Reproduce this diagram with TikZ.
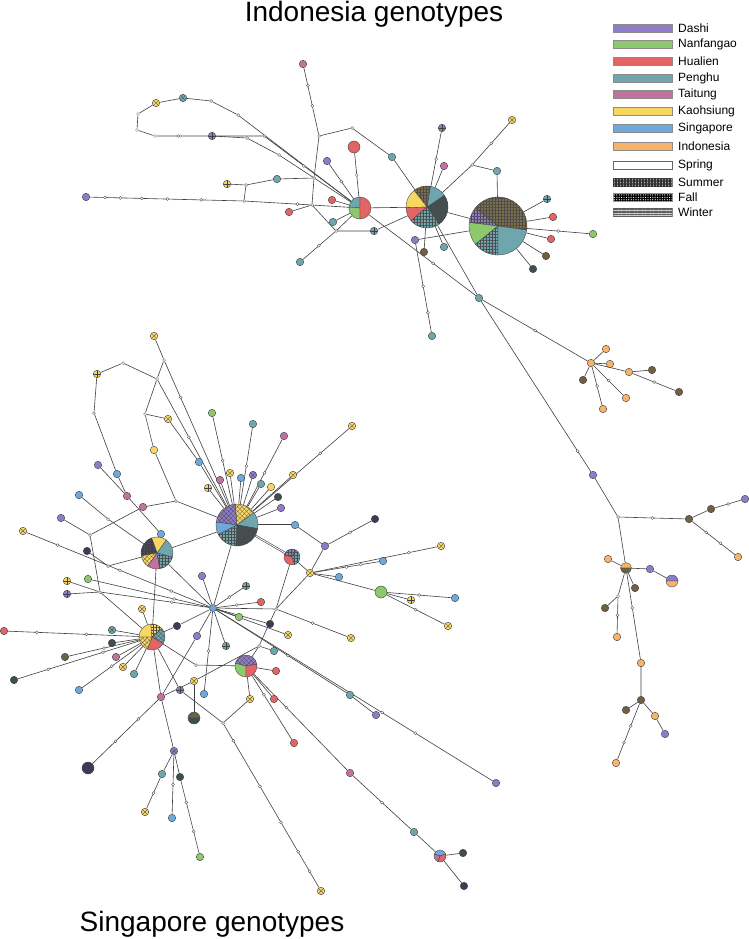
\documentclass[tikz,border=0pt]{standalone}
\usepackage{fontspec}
\setmainfont{Liberation Sans}
\usetikzlibrary{patterns,patterns.meta,backgrounds}

\definecolor{dashi}{HTML}{8E7CC8}
\definecolor{nanf}{HTML}{8DC96C}
\definecolor{hual}{HTML}{E36464}
\definecolor{pengh}{HTML}{6FA6AE}
\definecolor{tait}{HTML}{C2729F}
\definecolor{kaoh}{HTML}{F8D662}
\definecolor{sing}{HTML}{6EA8DD}
\definecolor{indo}{HTML}{F6B36A}
\definecolor{olv}{HTML}{6E6141}
\definecolor{olvl}{HTML}{7D6E4A}
\definecolor{slt}{HTML}{3E4F54}
\definecolor{dkp}{HTML}{3F3B56}

\tikzset{
  link/.style={draw=black!75, line width=0.6pt},
  dbl/.style={link, double=white, double distance=0.9pt},
  hap/.style={circle, draw=black!75, line width=0.4pt, minimum size=7.5pt, inner sep=0pt},
  mut/.style={circle, draw=black!70, fill=white, line width=0.35pt, minimum size=3pt, inner sep=0pt},
  gr/.style={postaction={pattern={Hatch[angle=0,distance=3pt,line width=0.2pt]}, pattern color=black!70}},
  xh/.style={postaction={pattern={Hatch[angle=45,distance=3.2pt,line width=0.25pt]}, pattern color=black!70}},
  pm/.style={path picture={\draw[black!75, line width=0.4pt] (path picture bounding box.north) -- (path picture bounding box.south) (path picture bounding box.west) -- (path picture bounding box.east);}},
  xm/.style={path picture={\draw[black!70, line width=0.35pt] (path picture bounding box.south west) -- (path picture bounding box.north east) (path picture bounding box.north west) -- (path picture bounding box.south east);}},
  swatch/.style={rectangle, draw=black!45, line width=0.3pt, minimum width=59pt, minimum height=8pt, inner sep=0pt},
  lgtext/.style={anchor=west, font=\fontsize{12}{14}\selectfont, inner sep=0pt},
  title/.style={anchor=base, font=\fontsize{28}{33}\selectfont, inner sep=0pt}
}

% pie chart haplotypes
\newcommand{\pienode}[4]{\node[circle, inner sep=0pt, minimum size=#4*2pt] (#1) at (#2,#3) {};}
\newcommand{\pieslice}[5]{\path[draw=black!75, line width=0.35pt, #5] (#1.center) -- ++({-(#3)}:#2) arc[start angle={-(#3)}, end angle={-(#4)}, radius=#2] -- cycle;}

\begin{document}
\begin{tikzpicture}[x=1pt,y=-1pt]
\path[use as bounding box] (0,0) rectangle (749,939);

% titles
\node[title] (ttlA) at (374,22) {Indonesia genotypes};
\node[title] (ttlB) at (212,931) {Singapore genotypes};

% legend
\node[swatch, fill=dashi] (lg1) at (642.5,28) {};
\node[swatch, fill=nanf] (lg2) at (642.5,44) {};
\node[swatch, fill=hual] (lg3) at (642.5,61) {};
\node[swatch, fill=pengh] (lg4) at (642.5,78) {};
\node[swatch, fill=tait] (lg5) at (642.5,94) {};
\node[swatch, fill=kaoh] (lg6) at (642.5,111) {};
\node[swatch, fill=sing] (lg7) at (642.5,128) {};
\node[swatch, fill=indo] (lg8) at (642.5,146) {};
\node[swatch, fill=white, draw=black!60] (lg9) at (642.5,165) {};
\node[swatch, fill=black!35, postaction={pattern={Hatch[angle=0,distance=1.5pt,line width=0.4pt]}, pattern color=black!80}] (lg10) at (642.5,182) {};
\node[swatch, fill=black, postaction={pattern={Dots[distance=2.4pt,radius=0.6pt]}, pattern color=white}] (lg11) at (642.5,197) {};
\node[swatch, fill=black!20, postaction={pattern={Lines[angle=0,distance=1.6pt,line width=0.5pt]}, pattern color=black!65}] (lg12) at (642.5,212) {};
\node[lgtext] (lt1) at (678,28) {Dashi};
\node[lgtext] (lt2) at (678,44) {Nanfangao};
\node[lgtext] (lt3) at (678,61) {Hualien};
\node[lgtext] (lt4) at (678,78) {Penghu};
\node[lgtext] (lt5) at (678,94) {Taitung};
\node[lgtext] (lt6) at (678,111) {Kaohsiung};
\node[lgtext] (lt7) at (678,128) {Singapore};
\node[lgtext] (lt8) at (678,146) {Indonesia};
\node[lgtext] (lt9) at (678,165) {Spring};
\node[lgtext] (lt10) at (678,182) {Summer};
\node[lgtext] (lt11) at (678,197) {Fall};
\node[lgtext] (lt12) at (678,212) {Winter};

% ---- Indonesia genotypes (top) ----
\pienode{pA}{360}{208}{11}
\pienode{pB}{427}{207}{21}
\pienode{pC}{498}{226}{29}
\node[hap,fill=tait] (ta) at (303,64) {};
\node[mut] (tb) at (319,136) {};
\node[mut] (tc) at (352,128) {};
\node[hap,fill=pengh] (td) at (392,157) {};
\node[mut] (te) at (314,178) {};
\node[mut] (tf) at (312,205) {};
\node[hap,fill=dashi] (tg) at (86,197) {};
\node[mut] (th) at (244,201) {};
\node[mut] (ti) at (246,185) {};
\node[hap,fill=kaoh,pm] (tj) at (227,184) {};
\node[hap,fill=pengh] (tk) at (277,179) {};
\node[hap,fill=hual] (tl) at (289,212) {};
\node[hap,fill=hual] (tm) at (332,200) {};
\node[hap,fill=hual,minimum size=12pt] (tn) at (354,147) {};
\node[hap,fill=dashi] (to) at (327,161) {};
\node[hap,fill=pengh] (tp) at (333,222) {};
\node[mut] (tq) at (336,231) {};
\node[hap,fill=pengh,pm] (tr) at (374,231) {};
\node[hap,fill=pengh] (ts) at (300,262) {};
\node[hap,fill=kaoh,xm] (tt) at (156,103) {};
\node[hap,fill=pengh,xm] (tu) at (183,98) {};
\node[mut] (tv) at (211,101) {};
\node[mut] (tw) at (238,115) {};
\node[mut] (tx) at (138,114) {};
\node[mut] (ty) at (137,130) {};
\node[mut] (tz) at (155,136) {};
\node[hap,fill=dashi,pm] (tA) at (212,136) {};
\node[mut] (tB) at (247,138) {};
\node[mut] (tC) at (264,136) {};
\node[mut] (tD) at (279,155) {};
\node[hap,fill=dashi] (u1) at (415,240) {};
\node[hap,fill=olv] (u2) at (424,252) {};
\node[hap,fill=pengh] (u3) at (444,247) {};
\node[hap,fill=dashi,pm] (u4) at (442,128) {};
\node[hap,fill=tait] (u5) at (444,166) {};
\node[mut] (u6) at (472,165) {};
\node[hap,fill=kaoh,xm] (u7) at (512,120) {};
\node[hap,fill=pengh] (u8) at (497,171) {};
\node[hap,fill=pengh,pm] (u9) at (547,199) {};
\node[hap,fill=hual] (u10) at (553,217) {};
\node[hap,fill=nanf] (u11) at (593,234) {};
\node[hap,fill=hual] (u12) at (551,239) {};
\node[hap,fill=olv] (u13) at (546,256) {};
\node[hap,fill=slt] (u14) at (533,269) {};
\node[hap,fill=pengh] (u15) at (432,336) {};
\node[hap,fill=pengh] (hubt) at (479,298) {};

% right hand groups
\node[hap,fill=indo] (ra) at (591,363) {};
\node[hap,fill=indo] (rb) at (606,349) {};
\node[hap,fill=indo] (rc) at (610,364) {};
\node[hap,fill=indo] (rd) at (629,372) {};
\node[hap,fill=olv] (re) at (652,370) {};
\node[hap,fill=olv] (rf) at (679,392) {};
\node[hap,fill=olv] (rg) at (583,380) {};
\node[hap,fill=indo] (rh) at (603,409) {};
\node[hap,fill=indo] (ri) at (626,398) {};
\node[hap,fill=dashi] (rj) at (593,475) {};
\node[mut] (rk) at (618,517) {};
\node[hap,fill=olv] (rl) at (689,519) {};
\node[hap,fill=olv] (rm) at (711,509) {};
\node[hap,fill=dashi] (rn) at (745,499) {};
\node[hap,fill=indo] (ro) at (738,557) {};
\pienode{pD}{626}{568}{5.5}
\node[hap,fill=indo] (rp) at (608,559) {};
\node[hap,fill=dashi] (rq) at (650,569) {};
\pienode{pE}{672}{581}{6}
\node[hap,fill=olv] (rr) at (635,588) {};
\node[mut] (rs) at (618,596) {};
\node[hap,fill=olv] (rt) at (605,608) {};
\node[hap,fill=indo] (ru) at (617,637) {};
\node[hap,fill=indo] (rv) at (641,663) {};
\node[hap,fill=olv] (rw) at (641,700) {};
\node[hap,fill=olv] (rx) at (626,710) {};
\node[hap,fill=indo] (ry) at (655,716) {};
\node[hap,fill=dashi] (rz) at (665,734) {};
\node[hap,fill=indo] (rA) at (616,763) {};

% ---- Singapore genotypes (bottom) ----
\pienode{pF}{237}{525}{21}
\pienode{pG}{157}{553}{16}
\pienode{pH}{292}{557}{8}
\pienode{pI}{152}{637}{13}
\pienode{pJ}{246}{666}{11}
\pienode{pK}{440}{856}{6}
\pienode{pL}{194}{718}{6}
\node[hap,fill=sing,minimum size=7pt] (sh) at (213,608) {};
\node[hap,fill=nanf] (f1) at (212,413) {};
\node[hap,fill=pengh] (f2) at (253,424) {};
\node[hap,fill=tait] (f3) at (284,436) {};
\node[hap,fill=kaoh,xm] (f4) at (352,426) {};
\node[hap,fill=kaoh,xm] (f5) at (293,475) {};
\node[hap,fill=slt] (f6) at (278,497) {};
\node[hap,fill=dashi] (f7) at (281,508) {};
\node[hap,fill=kaoh] (f8) at (271,487) {};
\node[hap,fill=pengh] (f9) at (261,484) {};
\node[hap,fill=dashi,xm] (f10) at (253,475) {};
\node[hap,fill=sing] (f11) at (241,478) {};
\node[hap,fill=kaoh,xm] (f12) at (230,473) {};
\node[hap,fill=tait] (f13) at (220,480) {};
\node[hap,fill=kaoh,pm] (f14) at (208,488) {};
\node[hap,fill=sing] (f15) at (199,462) {};
\node[hap,fill=kaoh,xm] (f16) at (168,419) {};
\node[mut] (f17) at (145,414) {};
\node[hap,fill=kaoh] (f18) at (154,450) {};
\node[mut] (f19) at (176,501) {};
\node[hap,fill=kaoh,xm] (f20) at (154,336) {};
\node[mut] (f21) at (164,360) {};
\node[mut] (f22) at (157,379) {};
\node[hap,fill=kaoh,pm] (f23) at (97,374) {};
\node[mut] (f24) at (123,363) {};
\node[mut] (f25) at (94,413) {};
\node[hap,fill=sing] (f26) at (117,474) {};
\node[hap,fill=tait] (f27) at (127,496) {};
\node[hap,fill=dashi] (f28) at (98,465) {};
\node[hap,fill=sing] (f29) at (79,495) {};
\node[hap,fill=dashi] (f30) at (61,518) {};
\node[mut] (f31) at (90,535) {};
\node[hap,fill=tait] (f32) at (143,507) {};
\node[hap,fill=sing] (f33) at (161,534) {};
\node[hap,fill=kaoh,xm] (f34) at (23,531) {};
\node[hap,fill=dkp] (f35) at (87,551) {};
\node[mut] (f36) at (108,566) {};
\node[mut] (f37) at (108,519) {};
\node[hap,fill=sing] (f38) at (295,525) {};
\node[hap,fill=dashi] (f39) at (325,546) {};
\node[hap,fill=dkp] (f40) at (375,519) {};
\node[hap,fill=kaoh,xm] (f41) at (310,573) {};
\node[hap,fill=sing] (f42) at (339,577) {};
\node[hap,fill=sing] (f43) at (383,561) {};
\node[hap,fill=kaoh,xm] (f44) at (441,546) {};
\node[hap,fill=nanf,minimum size=12pt] (f45) at (381,592) {};
\node[hap,fill=kaoh,pm] (f46) at (411,600) {};
\node[hap,fill=sing] (f47) at (455,598) {};
\node[hap,fill=kaoh,xm] (f48) at (448,626) {};
\node[mut] (f49) at (276,609) {};
\node[hap,fill=kaoh,pm] (g1) at (67,581) {};
\node[hap,fill=dashi,pm] (g2) at (67,594) {};
\node[hap,fill=nanf] (g3) at (88,579) {};
\node[mut] (g4) at (100,592) {};
\node[hap,fill=kaoh,xm] (g5) at (142,609) {};
\node[hap,fill=hual] (g6) at (4,631) {};
\node[hap,fill=pengh,xm] (g7) at (112,630) {};
\node[hap,fill=slt] (g8) at (112,643) {};
\node[hap,fill=olv] (g9) at (65,657) {};
\node[hap,fill=tait] (g10) at (116,657) {};
\node[hap,fill=kaoh,xm] (g11) at (123,667) {};
\node[hap,fill=pengh] (g12) at (134,674) {};
\node[hap,fill=slt] (g13) at (14,680) {};
\node[hap,fill=sing] (g14) at (79,690) {};
\node[hap,fill=dkp] (g15) at (177,626) {};
\node[hap,fill=dashi] (g16) at (197,636) {};
\node[hap,fill=dashi] (h1) at (202,576) {};
\node[hap,fill=pengh,pm] (h2) at (246,586) {};
\node[hap,fill=hual] (h3) at (261,602) {};
\node[hap,fill=nanf] (h4) at (239,617) {};
\node[hap,fill=dkp] (h5) at (270,624) {};
\node[hap,fill=kaoh,xm] (h6) at (288,635) {};
\node[hap,fill=kaoh,xm] (h7) at (351,638) {};
\node[hap,fill=pengh,pm] (h8) at (226,646) {};
\node[mut] (h9) at (259,646) {};
\node[hap,fill=pengh] (h10) at (274,651) {};
\node[hap,fill=hual] (h11) at (276,671) {};
\node[mut] (h12) at (196,665) {};
\node[hap,fill=kaoh,xm] (h13) at (194,681) {};
\node[hap,fill=dashi,pm] (h14) at (180,690) {};
\node[hap,fill=sing] (h15) at (204,694) {};
\node[hap,fill=tait] (h16) at (161,697) {};
\node[hap,fill=kaoh,xm] (h17) at (250,699) {};
\node[hap,fill=hual] (h18) at (274,699) {};
\node[mut] (h19) at (223,723) {};
\node[hap,fill=hual] (h20) at (294,743) {};
\node[hap,fill=pengh] (h21) at (350,695) {};
\node[hap,fill=dashi] (h22) at (376,715) {};
\node[hap,fill=tait] (h23) at (350,773) {};
\node[hap,fill=kaoh,xm] (h24) at (321,891) {};
\node[hap,fill=dkp,minimum size=12pt] (h25) at (88,768) {};
\node[hap,fill=dashi,xm] (h26) at (174,751) {};
\node[hap,fill=pengh] (h27) at (162,774) {};
\node[hap,fill=slt] (h28) at (180,777) {};
\node[hap,fill=kaoh,xm] (h29) at (145,812) {};
\node[hap,fill=sing] (h30) at (172,818) {};
\node[hap,fill=nanf] (h31) at (200,857) {};
\node[hap,fill=pengh] (h32) at (414,832) {};
\node[hap,fill=slt] (h33) at (463,853) {};
\node[hap,fill=dkp] (h34) at (464,886) {};
\node[hap,fill=dashi] (h35) at (496,783) {};

% pie slices
\pieslice{pA}{11}{90}{175}{fill=pengh}
\pieslice{pA}{11}{175}{270}{fill=nanf}
\pieslice{pA}{11}{270}{450}{fill=hual}
\pieslice{pB}{21}{-54}{34}{fill=slt,gr}
\pieslice{pB}{21}{34}{81}{fill=pengh}
\pieslice{pB}{21}{81}{128}{fill=olvl,gr}
\pieslice{pB}{21}{128}{182}{fill=kaoh}
\pieslice{pB}{21}{182}{221}{fill=hual}
\pieslice{pB}{21}{221}{306}{fill=pengh,gr}
\pieslice{pC}{29}{-8}{142}{fill=olvl,gr}
\pieslice{pC}{29}{142}{173}{fill=dashi,gr}
\pieslice{pC}{29}{173}{219}{fill=nanf}
\pieslice{pC}{29}{219}{270}{fill=pengh,gr}
\pieslice{pC}{29}{270}{352}{fill=pengh}
\pieslice{pD}{5.5}{0}{180}{fill=indo}
\pieslice{pD}{5.5}{180}{360}{fill=olv}
\pieslice{pE}{6}{0}{180}{fill=dashi}
\pieslice{pE}{6}{180}{360}{fill=indo}
\pieslice{pF}{21}{-10}{37}{fill=pengh}
\pieslice{pF}{21}{37}{95}{fill=kaoh,xh}
\pieslice{pF}{21}{95}{172}{fill=dashi,xh}
\pieslice{pF}{21}{172}{207}{fill=sing}
\pieslice{pF}{21}{207}{267}{fill=pengh,gr}
\pieslice{pF}{21}{267}{350}{fill=slt,gr}
\pieslice{pG}{16}{-15}{55}{fill=pengh}
\pieslice{pG}{16}{55}{110}{fill=kaoh}
\pieslice{pG}{16}{110}{190}{fill=dkp,gr}
\pieslice{pG}{16}{190}{235}{fill=kaoh,xh}
\pieslice{pG}{16}{235}{280}{fill=tait}
\pieslice{pG}{16}{280}{345}{fill=pengh,gr}
\pieslice{pH}{8}{60}{165}{fill=dashi,gr}
\pieslice{pH}{8}{165}{290}{fill=hual}
\pieslice{pH}{8}{290}{420}{fill=pengh,gr}
\pieslice{pI}{13}{95}{180}{fill=kaoh}
\pieslice{pI}{13}{40}{95}{fill=kaoh,gr}
\pieslice{pI}{13}{-30}{40}{fill=pengh,xh}
\pieslice{pI}{13}{250}{330}{fill=hual}
\pieslice{pI}{13}{180}{250}{fill=kaoh,xh}
\pieslice{pJ}{11}{10}{165}{fill=dashi,xh}
\pieslice{pJ}{11}{165}{270}{fill=nanf}
\pieslice{pJ}{11}{270}{370}{fill=hual}
\pieslice{pK}{6}{20}{160}{fill=sing}
\pieslice{pK}{6}{160}{250}{fill=tait}
\pieslice{pK}{6}{250}{380}{fill=hual}
\pieslice{pL}{6}{0}{180}{fill=olv}
\pieslice{pL}{6}{180}{360}{fill=slt}

% connections
\begin{scope}[on background layer]
\fill[white] (0,0) rectangle (749,939);
\path[link] (ta) -- node[mut,pos=.27]{} node[mut,pos=.57]{} (tb);
\path[link] (tb) -- (tc) -- (td) -- (pB);
\path[link] (tb) -- (te) -- (tf);
\path[link] (tg) -- node[mut,pos=.10]{} node[mut,pos=.20]{} node[mut,pos=.34]{} node[mut,pos=.51]{} node[mut,pos=.73]{} (th);
\path[link] (th) -- node[mut,pos=.8]{} (tf) -- (pA);
\path[link] (th) -- (ti) -- (tj);
\path[link] (ti) -- (tk) -- (te);
\path[link] (tl) -- (tf);
\path[link] (tm) -- (pA);
\path[link] (tn) -- node[mut]{} (pA);
\path[link] (to) -- node[mut]{} (pA);
\path[link] (tp) -- (pA);
\path[link] (tf) -- (tq) -- (pA);
\path[link] (tq) -- (tr) -- (pB);
\path[link] (tq) -- node[mut]{} (ts);
\path[link] (tt) -- (tu) -- (tv) -- (tw) -- (pA);
\path[link] (tt) -- (tx) -- (ty) -- (tz) -- node[mut,pos=.42]{} (tA) -- (tB) -- (tD) -- (pA);
\path[link] (tA) -- (tC) -- node[mut,pos=.45]{} (pA);
\path[link] (pA) -- (pB) -- (pC) -- (u1);
\path[link] (u1) -- node[mut,pos=.48]{} node[mut,pos=.78]{} (u15);
\path[link] (pB) -- (u2);
\path[link] (pB) -- (u3);
\path[link] (pB) -- node[mut]{} (u4);
\path[link] (pB) -- (u5);
\path[link] (pB) -- (u6) -- node[mut]{} (u7);
\path[link] (u6) -- (u8) -- (pC);
\path[link] (pC) -- (u9);
\path[link] (pC) -- (u10);
\path[link] (pC) -- node[mut]{} (u11);
\path[link] (pC) -- (u12);
\path[link] (pC) -- (u13);
\path[link] (pC) -- (u14);
\path[link] (pA) -- node[mut,pos=.6]{} (hubt);
\path[link] (pB) -- (hubt);
\path[link] (hubt) -- node[mut]{} (ra);
\path[link] (ra) -- (rb);
\path[link] (ra) -- (rc);
\path[link] (ra) -- (rd) -- (re);
\path[link] (rd) -- node[mut]{} (rf);
\path[link] (ra) -- (rg);
\path[link] (ra) -- node[mut]{} (rh);
\path[link] (ra) -- node[mut]{} (ri);
\path[link] (hubt) -- node[mut,pos=.88]{} (rj) -- (rk);
\path[link] (rk) -- node[mut]{} (rl);
\path[link] (rl) -- (rm) -- node[mut]{} (rn);
\path[link] (rl) -- node[mut,pos=.33]{} node[mut,pos=.66]{} (ro);
\path[link] (rk) -- (pD);
\path[link] (pD) -- (rp);
\path[link] (pD) -- (rq) -- (pE);
\path[link] (pD) -- (rr);
\path[link] (pD) -- (rs) -- (rt);
\path[link] (rs) -- node[mut]{} (ru);
\path[link] (pD) -- node[mut,pos=.4]{} (rv) -- (rw);
\path[link] (rw) -- (rx);
\path[link] (rw) -- (ry) -- (rz);
\path[link] (rw) -- node[mut,pos=.4]{} node[mut,pos=.7]{} (rA);
% bottom network
\path[link] (f1) -- node[mut]{} (pF);
\path[link] (f2) -- node[mut]{} (pF);
\path[link] (f3) -- node[mut]{} (pF);
\path[link] (f4) -- node[mut,pos=.3]{} (pF);
\path[link] (f5) -- (pF);
\path[link] (f6) -- (pF);
\path[link] (f7) -- (pF);
\path[link] (f8) -- (pF);
\path[link] (f9) -- (pF);
\path[link] (f10) -- (pF);
\path[link] (f11) -- (pF);
\path[link] (f12) -- (pF);
\path[link] (f13) -- (pF);
\path[link] (f14) -- (pF);
\path[link] (f17) -- (f16) -- (f15) -- (pF);
\path[link] (f17) -- (f18) -- (f19) -- (pF);
\path[link] (f20) -- (f21) -- (f22) -- (f17);
\path[link] (f21) -- node[mut,pos=.25]{} (pF);
\path[link] (f22) -- node[mut,pos=.45]{} (pF);
\path[link] (f23) -- (f24) -- (f22);
\path[link] (f23) -- (f25) -- (f26) -- (f27) -- (f33);
\path[link] (f28) -- (f27);
\path[link] (f29) -- (f37) -- (pG);
\path[link] (f30) -- (f31) -- (f32) -- (f19);
\path[link] (f31) -- (g4);
\path[link] (f34) -- node[mut,pos=.17]{} node[mut,pos=.51]{} node[mut,pos=.79]{} (sh);
\path[link] (f35) -- (f36) -- (pG);
\path[link] (pG) -- (pF);
\path[link] (pG) -- (pI);
\path[link] (pG) -- (sh);
\path[dbl] (pF) -- (pH);
\path[dbl] (pF) -- (f38);
\path[link] (f38) -- (f39) -- node[mut]{} (f40);
\path[link] (f39) -- (f41);
\path[link] (pH) -- (f41);
\path[link] (pH) -- (f49);
\path[link] (f41) -- (f49);
\path[link] (f41) -- (f42);
\path[link] (f41) -- node[mut,pos=.5]{} node[mut,pos=.72]{} (f43);
\path[link] (f41) -- node[mut,pos=.77]{} (f44);
\path[link] (f41) -- (f45);
\path[link] (f45) -- (f46);
\path[link] (f45) -- node[mut]{} (f47);
\path[link] (f45) -- node[mut]{} (f48);
\path[link] (pF) -- (sh);
\path[link] (g1) -- (g4);
\path[link] (g2) -- (g4);
\path[link] (g4) -- (pI);
\path[link] (g4) -- node[mut,pos=.65]{} (sh);
\path[link] (g3) -- node[mut,pos=.7]{} (sh);
\path[link] (g5) -- (pI);
\path[link] (g6) -- node[mut,pos=.22]{} node[mut,pos=.6]{} (pI);
\path[link] (g7) -- (pI);
\path[link] (g8) -- (pI);
\path[link] (g9) -- node[mut]{} (pI);
\path[link] (g10) -- (pI);
\path[link] (g11) -- (pI);
\path[link] (g12) -- (pI);
\path[link] (g13) -- node[mut,pos=.25]{} node[mut,pos=.7]{} (pI);
\path[link] (g14) -- node[mut]{} (pI);
\path[link] (pI) -- (g15) -- (sh);
\path[link] (sh) -- (h1);
\path[link] (sh) -- node[mut]{} (h2);
\path[link] (sh) -- node[mut]{} (h3);
\path[link] (sh) -- (h4);
\path[link] (sh) -- (h5);
\path[link] (sh) -- (h6);
\path[link] (sh) -- (f49);
\path[link] (f49) -- node[mut]{} (h7);
\path[link] (sh) -- (h8);
\path[link] (f49) -- (h9) -- (pJ);
\path[link] (h9) -- (h10);
\path[link] (h9) -- (h13) -- (h16);
\path[link] (h13) -- (pL);
\path[link] (sh) -- (g16) -- (h16);
\path[link] (h16) -- node[mut,pos=.3]{} node[mut,pos=.65]{} (h25);
\path[link] (pI) -- (h12) -- (pJ);
\path[link] (pJ) -- (h11);
\path[link] (pJ) -- (h17) -- (h19);
\path[link] (pI) -- (h14) -- (h19);
\path[link] (sh) -- node[mut]{} (h15);
\path[link] (h19) -- node[mut,pos=.1]{} node[mut,pos=.38]{} node[mut,pos=.6]{} node[mut,pos=.78]{} node[mut,pos=.9]{} (h24);
\path[link] (pJ) -- (h18);
\path[link] (pJ) -- node[mut,pos=.3]{} (h20);
\path[link] (pJ) -- node[mut,pos=.35]{} (h23) -- node[mut]{} (h32) -- (pK);
\path[link] (pK) -- (h33);
\path[link] (pK) -- (h34);
\path[link] (sh) -- node[mut,pos=.55]{} (h21) -- (h22);
\path[link] (sh) -- node[mut,pos=.6]{} node[mut,pos=.72]{} (h35);
\path[link] (pI) -- (h16) -- (h26);
\path[link] (h26) -- (h27) -- node[mut]{} (h29);
\path[link] (h26) -- node[mut]{} (h30);
\path[link] (h26) -- (h28) -- node[mut,pos=.3]{} node[mut,pos=.7]{} (h31);
\end{scope}
\end{tikzpicture}
\end{document}
